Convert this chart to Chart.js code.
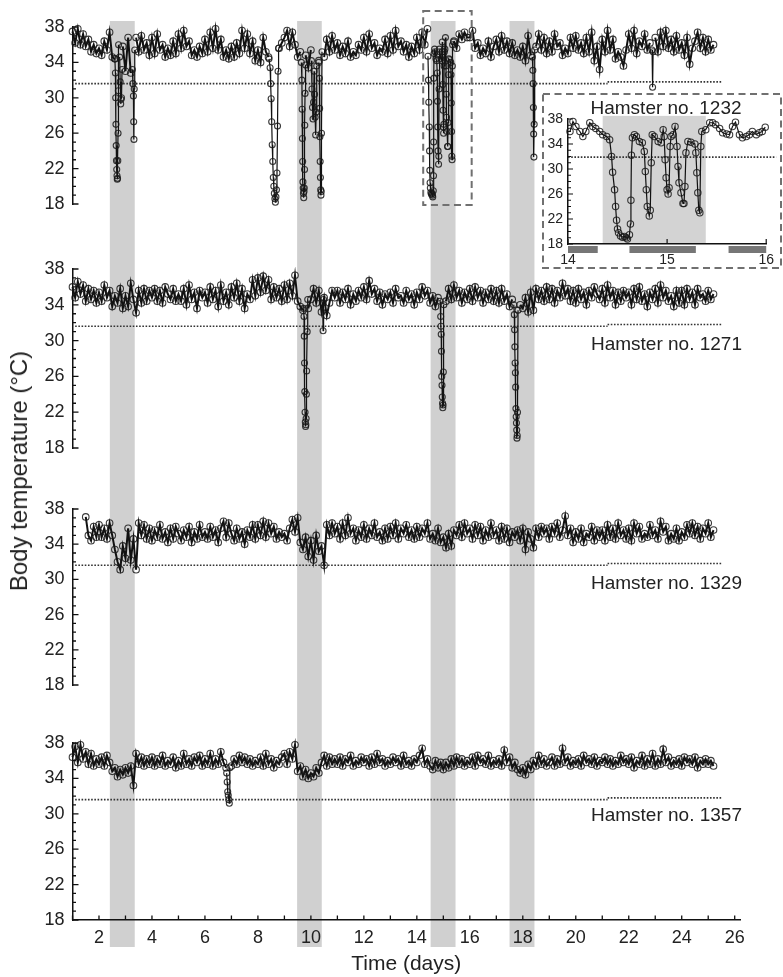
<!DOCTYPE html>
<html><head><meta charset="utf-8">
<script src="https://cdn.jsdelivr.net/npm/chart.js@4/dist/chart.umd.min.js"></script>
<style>
html,body{margin:0;padding:0;background:#fff;}
#wrap{position:relative;width:783px;height:977px;overflow:hidden;font-family:"Liberation Sans",Arial,sans-serif;color:#222;}
canvas{position:absolute;left:0;}
.lab{position:absolute;font-size:19px;line-height:19px;white-space:nowrap;color:#222;}
#ytitle{position:absolute;left:19px;top:471px;transform:translate(-50%,-50%) rotate(-90deg);white-space:nowrap;font-size:24px;color:#222;}
</style></head><body>
<div id="wrap">
<canvas id="c1" width="783" height="236" style="top:0px"></canvas>
<canvas id="c2" width="783" height="242" style="top:236px"></canvas>
<canvas id="c3" width="783" height="234" style="top:478px"></canvas>
<canvas id="c4" width="783" height="265" style="top:712px"></canvas>
<canvas id="ci" width="240" height="176" style="left:542px;top:93px"></canvas>
<div id="ytitle">Body temperature (°C)</div>
<div class="lab" style="left:666px;top:98px;transform:translateX(-50%)">Hamster no. 1232</div>
<div class="lab" style="right:41px;top:334px">Hamster no. 1271</div>
<div class="lab" style="right:41px;top:573px">Hamster no. 1329</div>
<div class="lab" style="right:41px;top:805px">Hamster no. 1357</div>
</div>
<script>
// ---------- data ----------
const xTickLabels = [2,4,6,8,10,12,14,16,18,20,22,24,26];
const yTickLabels = [18,22,26,30,34,38];
const insetXTickLabels = [14,15,16];
const bandStart = [2.41, 9.48, 14.52, 17.5];
const bandEnd   = [3.35, 10.41, 15.46, 18.44];
const thresholdX = [1.1, 21.2, 25.5];
const thresholdY = [31.6, 31.8];
const insetThresholdX = [14, 16.1];
const insetThresholdY = 31.9;
const insetTorpor = [14.35, 15.39];
const darkStart = [14.0, 14.62, 15.62];
const darkEnd   = [14.3, 15.29, 16.0];
const sampleStep = 0.1;

const start1232 = 1.0;
const base1232 = [
37.5,36.2,37.8,36.0,37.2,35.8,36.6,35.2,36.0,35.0,
35.6,34.8,36.4,35.4,37.4,34.6,34.4,null,null,35.8,
33.0,36.8,32.8,null,36.8,35.2,37.0,35.4,36.2,34.8,
36.8,35.0,37.2,35.4,36.0,34.6,35.6,34.8,36.4,35.0,
37.2,35.6,37.6,35.8,36.4,34.8,35.4,34.6,35.8,35.0,
36.6,35.2,37.4,35.6,37.8,35.4,36.6,34.6,35.4,34.4,
35.8,34.6,36.2,35.0,37.6,35.6,37.2,35.0,36.4,34.2,
35.4,34.0,36.8,35.2,34.6,null,null,null,35.6,36.2,
36.8,37.6,35.8,37.4,36.0,34.6,35.2,null,34.8,33.4,
35.4,null,null,34.2,null,34.6,36.6,35.2,37.0,35.4,
36.2,34.8,35.8,35.0,36.4,34.6,35.2,34.8,36.0,35.4,
36.8,35.2,37.2,35.6,36.2,34.8,35.6,35.2,36.6,35.0,
37.0,35.4,37.6,35.8,36.4,35.2,36.0,34.6,35.8,35.0,
36.8,35.4,37.4,36.0,37.8,null,null,null,null,null,
null,null,null,null,36.4,35.6,37.2,36.6,37.4,36.8,
36.8,37.6,35.6,36.2,34.8,35.6,35.0,36.4,34.6,35.8,
36.6,35.2,37.0,35.4,36.4,35.0,36.2,34.8,35.4,34.6,
35.8,34.2,37.0,34.8,null,35.8,37.2,35.4,36.8,35.0,
36.4,35.2,37.2,35.8,36.2,34.8,35.6,35.0,36.8,35.6,
37.0,35.4,36.2,35.0,36.8,35.2,37.4,34.2,35.8,33.2,
36.6,35.2,37.6,35.4,36.6,34.4,35.2,34.6,33.6,35.4,
37.2,35.6,37.6,35.0,36.4,35.8,37.2,35.4,36.2,null,
36.8,35.2,37.4,35.8,37.6,35.6,36.6,35.2,37.0,35.4,
36.2,34.8,36.8,33.8,35.6,36.4,37.4,35.6,36.8,35.2,
36.6,35.4,36.0];
const dipT1232 = [
[2.60,2.62,2.63,2.64,2.65,2.66,2.67,2.68,2.69,2.70,2.71,2.72,2.73,2.74],
[2.78,2.80,2.82,2.83,2.85,2.87],
[3.26,3.28,3.30,3.31,3.32,3.33,3.35],
[8.42,8.46,8.48,8.50,8.52,8.54,8.56,8.58,8.60,8.62,8.64,8.66,8.68,8.70,8.72,8.74,8.76,8.78],
[9.64,9.66,9.67,9.68,9.69,9.70,9.71,9.72,9.73,9.74,9.75,9.76,9.77,9.78,9.80],
[10.02,10.04,10.06,10.08,10.10,10.12,10.14,10.16,10.18,10.20,10.22],
[10.30,10.32,10.33,10.34,10.35,10.36,10.37,10.38,10.39,10.40,10.42],
[18.36,18.38,18.39,18.40,18.41,18.42,18.43,18.45],
[22.88,22.90,22.92]];
const dipV1232 = [
[34.4,32.8,30.0,27.0,24.6,22.9,21.9,21.2,20.8,20.9,22.9,26.0,30.8,36.0],
[34.6,31.8,29.3,29.8,30.0,33.2],
[33.2,31.6,30.2,27.3,25.3,31.0,35.4],
[34.4,33.4,31.6,29.9,27.3,24.7,22.8,21.0,20.0,19.2,18.6,18.2,18.8,19.6,21.5,26.8,33.0,35.6],
[34.0,32.0,28.7,25.4,22.8,20.5,19.8,19.2,18.7,19.4,19.8,21.9,26.9,30.5,33.7],
[34.2,31.0,28.9,27.6,29.5,33.0,30.4,27.8,25.8,28.4,33.6],
[34.0,32.2,28.8,25.6,22.8,21.0,19.6,19.0,19.4,26.0,35.2],
[34.6,33.1,31.6,28.9,25.9,23.3,27.0,35.4],
[35.4,31.2,35.2]];

// inset (hamster 1232, days 14-16)
const insetT = [14.02,14.05,14.08,14.12,14.15,14.18,14.22,14.25,14.28,14.32,14.35,14.39,14.42,14.44,14.45,14.47,14.48,14.49,14.50,14.51,14.53,14.55,14.57,14.59,14.60,14.62,14.63,14.635,14.64,14.65,14.67,14.69,14.72,14.75,14.77,14.78,14.79,14.80,14.82,14.83,14.84,14.85,14.87,14.91,14.94,14.96,14.97,14.98,14.99,15.00,15.01,15.02,15.03,15.04,15.06,15.08,15.10,15.11,15.12,15.14,15.16,15.17,15.18,15.19,15.21,15.24,15.28,15.29,15.30,15.31,15.32,15.33,15.34,15.35,15.39,15.43,15.46,15.49,15.53,15.56,15.60,15.63,15.66,15.69,15.73,15.76,15.80,15.83,15.86,15.90,15.93,15.96,15.99];
const insetV = [36.0,37.6,36.8,36.0,35.2,36.0,37.4,36.8,36.5,36.0,35.5,35.2,34.7,32.0,29.5,26.7,24.0,21.8,20.4,19.8,19.3,19.1,19.2,19.0,18.8,19.5,21.2,25.0,32.2,35.0,35.5,35.2,34.4,34.2,32.8,29.6,26.7,24.0,22.5,23.4,31.0,35.5,35.2,34.4,34.2,36.3,35.2,31.5,28.6,26.7,26.0,27.0,33.6,35.2,35.5,36.8,33.6,30.4,27.8,26.2,24.5,24.5,27.2,32.6,34.4,34.3,34.0,32.6,29.4,26.2,23.4,23.0,33.6,36.0,36.3,37.4,37.4,37.1,36.5,35.8,35.6,35.5,36.8,37.5,35.5,35.0,35.2,35.5,36.0,35.5,35.8,36.0,36.7];

const start1271 = 1.0;
const base1271 = [
36.0,34.8,36.6,35.2,36.2,34.4,35.8,34.6,35.6,34.2,
35.4,34.4,36.2,34.8,35.6,33.8,35.0,34.2,35.8,33.6,
35.0,33.8,36.4,34.6,33.1,35.6,34.2,35.8,34.4,35.6,
34.8,35.8,34.4,35.6,34.2,36.0,35.2,34.6,35.8,34.4,
35.2,34.4,35.8,34.0,36.2,34.6,35.4,33.6,35.6,34.8,
35.4,34.2,36.0,34.6,35.6,33.8,36.2,34.4,35.4,34.0,
36.0,34.8,36.4,34.4,35.8,33.6,35.2,34.6,36.8,35.0,
37.0,35.4,37.2,35.6,36.8,34.6,36.0,34.8,35.8,34.4,
36.2,34.6,36.4,35.0,37.3,34.4,33.8,33.4,null,33.6,
34.6,35.8,34.2,35.6,33.2,34.8,32.8,34.2,35.6,34.8,
35.6,34.2,35.4,34.6,35.8,34.0,35.2,34.4,35.6,34.8,
36.0,34.6,36.7,35.2,35.8,34.4,35.4,34.0,35.2,34.6,
35.4,34.2,35.8,34.8,35.0,34.2,35.6,34.6,35.2,34.0,
35.4,34.6,36.0,35.0,35.6,34.2,35.0,33.8,34.8,null,
null,34.4,35.8,34.6,36.2,34.8,35.6,34.2,35.4,34.6,
35.8,34.4,36.0,34.8,35.6,34.2,35.4,34.6,35.8,34.4,
35.6,34.2,35.8,34.4,35.2,33.8,34.6,null,null,34.0,
33.6,34.8,33.2,35.4,33.4,35.8,34.6,35.6,34.4,36.0,
34.6,35.8,34.2,35.6,34.8,36.4,35.0,35.8,34.4,35.6,
34.2,35.8,34.6,35.4,34.0,35.6,34.8,36.0,35.2,34.6,
35.8,34.2,36.2,34.8,35.6,34.0,35.4,34.4,35.6,34.8,
35.4,34.0,35.8,34.6,36.0,34.4,35.2,33.8,35.4,34.6,
35.8,34.2,36.2,34.8,35.6,34.4,35.0,33.8,35.6,34.2,
35.6,34.0,35.8,34.6,35.4,34.0,35.8,34.8,35.2,34.4,
35.6,34.6,35.2];
const dipT1271 = [
[9.72,9.74,9.75,9.76,9.77,9.78,9.79,9.80,9.81,9.82,9.83,9.84,9.86,9.88],
[10.44,10.46,10.48],
[14.88,14.90,14.91,14.92,14.93,14.94,14.95,14.96,14.97,14.98,14.99,15.00,15.02],
[17.66,17.68,17.69,17.70,17.71,17.72,17.73,17.74,17.75,17.76,17.77,17.78,17.79,17.80,17.82]];
const dipV1271 = [
[33.6,32.7,30.5,27.5,24.3,22.0,20.9,20.4,20.6,21.3,24.0,26.6,31.0,34.6],
[34.2,31.1,34.6],
[34.4,32.7,31.6,30.7,28.8,26.0,25.0,23.7,23.0,22.5,22.8,26.5,34.0],
[34.0,32.9,31.2,29.3,27.5,26.4,24.8,22.4,21.5,20.8,20.0,19.1,19.4,22.0,33.4]];

const start1329 = 1.5;
const base1329 = [
37.1,35.0,34.4,36.0,34.8,
36.2,34.8,35.8,34.6,36.4,35.0,33.4,32.0,31.1,33.8,
32.4,35.8,32.2,34.6,31.1,36.4,35.0,36.2,34.6,35.8,
34.4,35.6,34.8,36.2,34.6,35.4,34.2,35.8,34.6,36.0,
35.2,34.4,35.6,34.8,36.0,34.2,35.4,34.6,36.2,34.8,
35.4,34.6,36.0,34.8,35.6,34.2,35.8,36.6,34.8,36.4,
35.2,34.4,35.8,34.6,35.4,34.0,35.6,34.8,36.2,34.6,
36.2,35.0,36.6,34.8,36.4,35.2,36.0,34.6,35.4,34.8,
35.2,34.4,35.8,36.8,35.4,37.0,34.2,33.4,34.8,32.6,
34.4,32.2,35.0,33.2,33.8,31.6,36.2,35.0,36.4,35.2,
36.0,34.6,36.4,35.0,37.0,35.2,35.8,34.4,35.6,34.8,
36.2,34.6,35.8,35.0,36.4,34.8,35.4,34.4,35.8,34.6,
36.0,35.0,36.4,34.6,35.8,35.2,36.2,34.8,35.6,34.6,
36.0,34.8,35.8,35.2,36.4,34.6,35.2,34.4,35.8,34.2,
34.8,33.6,35.2,33.8,35.6,35.0,36.2,34.8,36.4,35.2,
35.8,34.6,36.2,35.0,36.0,34.4,35.6,34.8,36.4,35.0,
35.6,34.4,36.0,34.6,35.8,34.2,35.4,34.8,35.6,34.4,
35.8,33.4,35.4,34.6,33.6,35.8,34.8,36.0,35.2,35.8,
34.6,36.0,35.2,36.4,34.8,35.6,37.2,35.0,35.8,34.2,
35.4,34.6,35.8,34.2,35.2,34.8,36.0,34.4,35.6,34.8,
35.6,34.4,36.2,34.8,35.8,34.6,36.4,35.0,35.6,34.6,
35.8,34.4,36.4,35.2,36.0,34.6,35.2,34.8,36.2,35.0,
35.6,34.6,36.6,35.4,36.0,34.4,35.2,34.6,35.8,34.4,
35.4,34.8,36.2,35.2,36.4,35.0,36.0,34.6,35.8,35.2,
36.4,34.8,35.6];
const dipT1329 = [];
const dipV1329 = [];

const start1357 = 1.0;
const base1357 = [
36.4,37.6,35.8,37.8,36.2,37.0,35.6,36.8,35.4,36.2,
35.6,36.4,35.4,36.6,35.8,34.8,35.2,34.2,35.0,34.4,
35.2,34.6,35.4,33.2,36.8,35.6,36.4,35.4,36.2,35.6,
36.4,35.4,36.2,35.6,36.6,35.4,36.0,35.6,36.4,35.2,
36.0,35.4,36.8,35.6,36.2,35.4,36.4,35.8,36.6,35.4,
36.2,35.6,36.8,35.4,36.2,35.6,37.0,35.8,35.2,null,
35.4,36.2,35.6,36.6,35.8,36.4,35.6,36.2,35.4,36.0,
35.6,36.4,35.4,36.8,35.6,36.2,35.2,36.0,35.6,36.4,
36.8,35.6,37.0,36.2,37.8,34.8,35.4,34.2,35.0,34.0,
34.6,34.2,35.2,34.6,35.8,36.6,35.4,36.4,35.6,36.2,
35.6,36.4,35.4,36.2,35.8,36.6,35.4,36.0,35.6,36.4,
35.8,36.2,35.4,36.4,35.6,36.8,35.8,36.2,35.4,36.0,
35.6,36.4,35.8,36.2,35.4,36.6,35.6,36.0,35.4,36.2,
35.8,36.6,37.4,35.6,36.2,35.4,35.0,36.0,35.2,35.8,
35.0,35.8,35.2,36.2,35.4,36.4,35.6,36.2,35.4,36.0,
35.6,36.4,35.4,36.6,35.8,36.2,35.6,36.6,35.4,36.0,
35.6,36.2,35.4,37.2,35.8,36.4,35.2,35.8,35.0,34.6,
35.2,34.4,35.6,35.0,36.0,35.4,36.6,35.6,36.2,35.4,
35.8,36.4,35.4,36.2,35.6,37.4,35.8,36.4,35.4,36.0,
35.6,36.2,35.4,36.6,35.8,36.2,35.6,36.4,35.4,36.0,
35.8,36.4,35.6,36.2,35.4,36.0,35.6,36.6,35.8,36.2,
35.6,36.4,35.2,36.0,35.6,36.6,35.4,36.2,35.6,36.8,
35.4,36.2,35.6,37.3,35.8,36.4,35.4,36.0,35.6,36.2,
35.4,36.4,35.8,36.2,35.6,36.4,35.2,36.0,35.6,36.2,
35.6,36.0,35.4];
const dipT1357 = [[6.82,6.84,6.86,6.88,6.90,6.92,6.94]];
const dipV1357 = [[34.6,33.6,32.5,32.1,31.6,31.2,35.2]];

// ---------- helpers ----------
Chart.defaults.font.family = '"Liberation Sans", Arial, sans-serif';
Chart.defaults.color = '#222';
const FONT = '"Liberation Sans", Arial, sans-serif';

function basePoints(start, vals) {
  return vals.map((v, i) => ({x: +(start + i * sampleStep).toFixed(3), y: v}));
}
function pairPoints(ts, vs) { return ts.map((t, i) => ({x: t, y: vs[i]})); }

function seriesDS(data, r, lw) {
  return {data, borderColor:'#111', borderWidth:lw || 1.2, pointRadius:r, pointBorderWidth:1.1,
    pointBorderColor:'rgba(25,25,25,0.85)', pointBackgroundColor:'rgba(0,0,0,0)',
    spanGaps:false, clip:false, tension:0};
}
function dottedDS(data) {
  return {data, borderColor:'#333', borderWidth:1.6, borderDash:[1.6,1.6], pointRadius:0, clip:false};
}

function decoPlugin(cfg) {
  return {
    id: 'deco',
    beforeDraw(chart) {
      const {ctx} = chart, x = chart.scales.x;
      ctx.save();
      ctx.fillStyle = '#d0d0d0';
      bandStart.forEach((a, i) => {
        const x1 = x.getPixelForValue(a), x2 = x.getPixelForValue(bandEnd[i]);
        ctx.fillRect(x1, cfg.bandTop, x2 - x1, cfg.bandBottom - cfg.bandTop);
      });
      ctx.restore();
    },
    afterDraw(chart) {
      const {ctx, chartArea} = chart, x = chart.scales.x, y = chart.scales.y;
      ctx.save();
      ctx.strokeStyle = '#111'; ctx.lineWidth = 1.3;
      ctx.beginPath();
      for (let v = 18; v <= 38; v++) {
        const py = y.getPixelForValue(v);
        const len = yTickLabels.includes(v) ? 6 : 3.5;
        ctx.moveTo(chartArea.left, py); ctx.lineTo(chartArea.left + len, py);
      }
      if (cfg.xTicks) {
        for (let d = 1; d <= 26; d++) {
          const px = x.getPixelForValue(d);
          ctx.moveTo(px, chartArea.bottom); ctx.lineTo(px, chartArea.bottom - 4.5);
        }
      }
      ctx.stroke();
      if (cfg.box) {
        ctx.setLineDash([7, 4.5]); ctx.lineWidth = 2; ctx.strokeStyle = '#707070';
        const x1 = x.getPixelForValue(cfg.box[0]), x2 = x.getPixelForValue(cfg.box[1]);
        const y1 = y.getPixelForValue(cfg.box[2]), y2 = y.getPixelForValue(cfg.box[3]);
        ctx.strokeRect(x1, y1, x2 - x1, y2 - y1);
      }
      ctx.restore();
    }
  };
}

function makeMain(id, pad, start, base, dipT, dipV, extra, cfg, bottomAxis) {
  const datasets = [seriesDS(basePoints(start, base), 3.3, 2.0)];
  dipT.forEach((ts, i) => datasets.push(seriesDS(pairPoints(ts, dipV[i]), 3.0)));
  extra.forEach(d => datasets.push(d));
  datasets.push(dottedDS([{x:thresholdX[0], y:thresholdY[0]}, {x:thresholdX[1], y:thresholdY[0]}]));
  datasets.push(dottedDS([{x:thresholdX[1], y:thresholdY[1]}, {x:thresholdX[2], y:thresholdY[1]}]));
  const xScale = bottomAxis ? {
      type:'linear', min:1, max:26.2, afterFit(s){ s.height = 57; },
      ticks:{stepSize:1, includeBounds:false, autoSkip:false, maxRotation:0, padding:7,
        font:{size:18, family:FONT}, color:'#222',
        callback: v => xTickLabels.includes(v) ? String(v) : ''},
      grid:{display:false, drawTicks:false},
      border:{display:true, color:'#111', width:1.5},
      title:{display:true, text:'Time (days)', font:{size:21, family:FONT}, color:'#222', padding:{top:0, bottom:0}}
    } : {type:'linear', min:1, max:26.2, display:false};
  return new Chart(document.getElementById(id), {
    type:'line',
    data:{datasets},
    options:{
      responsive:false, animation:false, events:[],
      layout:{padding:{top:pad[0], bottom:pad[1], left:32.5, right:43}},
      plugins:{legend:{display:false}, tooltip:{enabled:false}},
      scales:{
        x: xScale,
        y:{type:'linear', min:18, max:38, afterFit(s){ s.width = 40; },
          ticks:{stepSize:1, includeBounds:false, autoSkip:false, padding:8,
            font:{size:18, family:FONT}, color:'#222',
            callback: v => yTickLabels.includes(v) ? String(v) : ''},
          grid:{display:false, drawTicks:false},
          border:{display:true, color:'#111', width:1.5}}
      }
    },
    plugins:[decoPlugin(cfg)]
  });
}

// main-panel part of the inset record (torpor bout inside band 3)
const insetMainT = insetT.filter(t => t >= 14.40 && t <= 15.40);
const insetMainV = insetV.filter((v, i) => insetT[i] >= 14.40 && insetT[i] <= 15.40);

makeMain('c1', [27, 32], start1232, base1232, dipT1232, dipV1232,
  [seriesDS(pairPoints(insetMainT, insetMainV), 3.0)],
  {bandTop:21, bandBottom:236, box:[14.24, 16.07, 39.8, 17.9]}, false);
makeMain('c2', [33, 30], start1271, base1271, dipT1271, dipV1271, [],
  {bandTop:0, bandBottom:242}, false);
makeMain('c3', [31, 27], start1329, base1329, dipT1329, dipV1329, [],
  {bandTop:0, bandBottom:234}, false);
makeMain('c4', [31, 0], start1357, base1357, dipT1357, dipV1357, [],
  {bandTop:0, bandBottom:235, xTicks:true}, true);

// ---------- inset ----------
const insetPlugin = {
  id:'insetDeco',
  beforeDraw(chart) {
    const {ctx, chartArea} = chart, x = chart.scales.x, y = chart.scales.y;
    ctx.save();
    ctx.fillStyle = '#fff'; ctx.fillRect(0, 0, chart.width, chart.height);
    ctx.fillStyle = '#d3d3d3';
    const x1 = x.getPixelForValue(insetTorpor[0]), x2 = x.getPixelForValue(insetTorpor[1]);
    const yt = y.getPixelForValue(38.5);
    ctx.fillRect(x1, yt, x2 - x1, chartArea.bottom - yt);
    ctx.restore();
  },
  afterDraw(chart) {
    const {ctx, chartArea} = chart, x = chart.scales.x, y = chart.scales.y;
    ctx.save();
    ctx.fillStyle = '#767676';
    darkStart.forEach((a, i) => {
      const x1 = x.getPixelForValue(a), x2 = x.getPixelForValue(darkEnd[i]);
      ctx.fillRect(x1, chartArea.bottom + 2, x2 - x1, 7);
    });
    ctx.strokeStyle = '#111'; ctx.lineWidth = 1.2;
    ctx.beginPath();
    for (let v = 18; v <= 38; v++) {
      const py = y.getPixelForValue(v);
      const len = yTickLabels.includes(v) ? 5 : 3;
      ctx.moveTo(chartArea.left, py); ctx.lineTo(chartArea.left + len, py);
    }
    insetXTickLabels.forEach(d => {
      const px = x.getPixelForValue(d);
      ctx.moveTo(px, chartArea.bottom); ctx.lineTo(px, chartArea.bottom - 5);
    });
    ctx.stroke();
    ctx.setLineDash([7, 4.5]); ctx.lineWidth = 2; ctx.strokeStyle = '#707070';
    ctx.strokeRect(1, 1, chart.width - 2, chart.height - 2);
    ctx.restore();
  }
};
new Chart(document.getElementById('ci'), {
  type:'line',
  data:{datasets:[
    seriesDS(pairPoints(insetT, insetV), 3.2),
    dottedDS([{x:insetThresholdX[0], y:insetThresholdY}, {x:insetThresholdX[1], y:insetThresholdY}])
  ]},
  options:{
    responsive:false, animation:false, events:[],
    layout:{padding:{top:26, bottom:0, left:6, right:15}},
    plugins:{legend:{display:false}, tooltip:{enabled:false}},
    scales:{
      x:{type:'linear', min:14, max:16, afterFit(s){ s.height = 25; },
        ticks:{stepSize:1, includeBounds:false, autoSkip:false, maxRotation:0, padding:8,
          font:{size:14, family:FONT}, color:'#222',
          callback: v => insetXTickLabels.includes(v) ? String(v) : ''},
        grid:{display:false, drawTicks:false},
        border:{display:true, color:'#111', width:1.5}},
      y:{type:'linear', min:18, max:38, afterFit(s){ s.width = 20; },
        ticks:{stepSize:1, includeBounds:false, autoSkip:false, padding:5,
          font:{size:14, family:FONT}, color:'#222',
          callback: v => yTickLabels.includes(v) ? String(v) : ''},
        grid:{display:false, drawTicks:false},
        border:{display:true, color:'#111', width:1.5}}
    }
  },
  plugins:[insetPlugin]
});
</script>
</body></html>
